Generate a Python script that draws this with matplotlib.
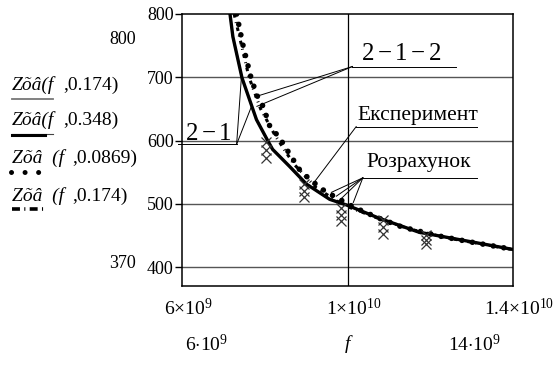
import numpy as np
import matplotlib
matplotlib.use("Agg")
import matplotlib.pyplot as plt
from matplotlib.lines import Line2D

plt.rcParams['font.family'] = ['Liberation Serif', 'DejaVu Serif']
plt.rcParams['mathtext.fontset'] = 'custom'
plt.rcParams['mathtext.rm'] = 'Liberation Serif'
plt.rcParams['mathtext.it'] = 'Liberation Serif:italic'

# curves, f in units of 1e9 Hz
f_solid = [7.16, 7.23, 7.45, 7.80, 8.07, 8.19, 8.60, 9.01, 9.57, 9.98, 10.77, 11.73, 13.98]
z_solid = [800, 764, 699, 633, 600, 586, 559, 531, 507, 498, 477, 455, 428]

f_dot = [7.32, 7.48, 7.68, 7.84, 7.96, 8.12, 8.36, 8.56, 8.84, 9.08, 9.45, 10.17, 10.73, 11.33, 12.22, 12.94, 13.90]
z_dot = [800, 749, 696, 667, 654, 623, 604, 583, 554, 539, 520, 494, 478, 463, 449, 440, 429]

f_dd = [7.26, 7.44, 7.62, 7.90, 8.25, 8.70, 9.25, 9.90, 10.70, 11.50, 12.50, 13.95]
z_dd = [800, 750, 700, 650, 608, 563, 525, 498, 478, 460, 445, 428]

# experiment points (crosses)
f_exp = [8.04, 8.04, 8.04, 8.96, 8.96, 8.96, 9.85, 9.85, 9.85, 10.85, 10.85, 10.85, 11.90, 11.90, 11.90]
z_exp = [598, 585, 573, 531, 520, 510, 494, 483, 472, 475, 463, 452, 451, 443, 437]

yticks = [400, 500, 600, 700, 800]

W, H = 555, 365
fig = plt.figure(figsize=(W / 100, H / 100), dpi=100)
ax = fig.add_axes([182 / W, 1 - 286 / H, 331 / W, 272 / H])


def px(x, y):
    return x / W, 1 - y / H


ax.plot(f_solid, z_solid, color='#777777', lw=1.5, zorder=3)
ax.plot(f_solid, z_solid, color='black', lw=2.4, zorder=3)
ax.plot(f_dot, z_dot, color='black', lw=4.0, linestyle=(0, (0.01, 1.9)),
        dash_capstyle='round', zorder=4)
ax.plot(f_dd, z_dd, color='black', lw=2.2, linestyle=(0, (1.2, 1.5, 0.3, 1.5)),
        zorder=4)
ax.plot(f_exp, z_exp, linestyle='none', marker='x', color='#333333', ms=7, mew=0.9,
        zorder=5)

ax.set_xlim(6, 14)
ax.set_ylim(370, 800)
ax.set_yticks(yticks)
ax.set_yticklabels([str(v) for v in yticks], fontsize=13)
ax.set_xticks([])
ax.tick_params(axis='y', length=5, width=1, pad=1, direction='out')
for s in ax.spines.values():
    s.set_linewidth(1.1)
for v in yticks[:-1]:
    ax.axhline(v, color='#555555', lw=1.0, zorder=1)
ax.axvline(10, color='black', lw=0.9, zorder=1)

# axis limit labels (Mathcad style)
fig.text(*px(136, 40), '800', ha='right', va='center', fontsize=13)
fig.text(*px(136, 264), '370', ha='right', va='center', fontsize=13)
fig.text(*px(188, 308), r'$6{\times}10^{9}$', ha='center', va='center', fontsize=14)
fig.text(*px(354, 308), r'$1{\times}10^{10}$', ha='center', va='center', fontsize=14)
fig.text(*px(519, 308), r'$1.4{\times}10^{10}$', ha='center', va='center', fontsize=14)
fig.text(*px(207, 344), r'$6{\cdot}10^{9}$', ha='center', va='center', fontsize=14)
fig.text(*px(349, 344), r'$f$', ha='center', va='center', fontsize=14)
fig.text(*px(474, 344), r'$14{\cdot}10^{9}$', ha='center', va='center', fontsize=14)

# legend on the left
leg_y = [85, 120, 158, 196]
leg_head = ['Zõâ(f', 'Zõâ(f', 'Zõâ  (f', 'Zõâ  (f']
leg_tail = [',0.174)', ',0.348)', ',0.0869)', ',0.174)']
leg_tail_x = [63, 63, 72, 72]
for y, hd, tl, tx in zip(leg_y, leg_head, leg_tail, leg_tail_x):
    fig.text(*px(12, y), hd, ha='left', va='center', fontsize=14, style='italic')
    fig.text(*px(tx, y), tl, ha='left', va='center', fontsize=14)

fig.add_artist(Line2D([12 / W, 53 / W], [1 - 99 / H] * 2, color='#777777', lw=1.3))
fig.add_artist(Line2D([12 / W, 53 / W], [1 - 134 / H] * 2, color='#444444', lw=0.8))
fig.add_artist(Line2D([12 / W, 45 / W], [1 - 135 / H] * 2, color='black', lw=2.2))
fig.add_artist(Line2D([11 / W, 45 / W], [1 - 172 / H] * 2, color='black', lw=3.6,
                      linestyle=(0, (0.01, 2.7)), dash_capstyle='round'))
fig.add_artist(Line2D([12 / W, 47 / W], [1 - 209 / H] * 2, color='black', lw=2.6,
                      linestyle=(0, (2.2, 1.2, 0.3, 1.2))))

# annotations with leader lines (data coords, f in 1e9)
lk = dict(color='black', lw=0.7, clip_on=False, zorder=6)
ax.plot([10.12, 12.63], [717, 717], **lk)
ax.plot([10.12, 7.76], [717, 669], **lk)
ax.plot([10.12, 7.81], [717, 654], **lk)
ax.text(11.30, 727, r'$2-1-2$', ha='center', va='baseline', fontsize=18)

ax.plot([5.90, 7.32], [594, 594], **lk)
ax.plot([7.32, 7.44], [594, 704], **lk)
ax.plot([7.32, 7.68], [594, 654], **lk)
ax.text(6.63, 601, r'$2-1$', ha='center', va='baseline', fontsize=18)

ax.plot([10.21, 13.14], [622, 622], **lk)
ax.plot([10.21, 9.16], [622, 531], **lk)
ax.text(11.70, 633, 'Експеримент', ha='center', va='baseline', fontsize=15.5)

ax.plot([10.37, 13.14], [541, 541], **lk)
for fe, ze in zip([9.61, 9.73, 9.83, 10.14], [518, 512, 507, 502]):
    ax.plot([10.37, fe], [541, ze], **lk)
ax.text(11.73, 558, 'Розрахунок', ha='center', va='baseline', fontsize=15.5)

fig.savefig('out.png', dpi=100)
